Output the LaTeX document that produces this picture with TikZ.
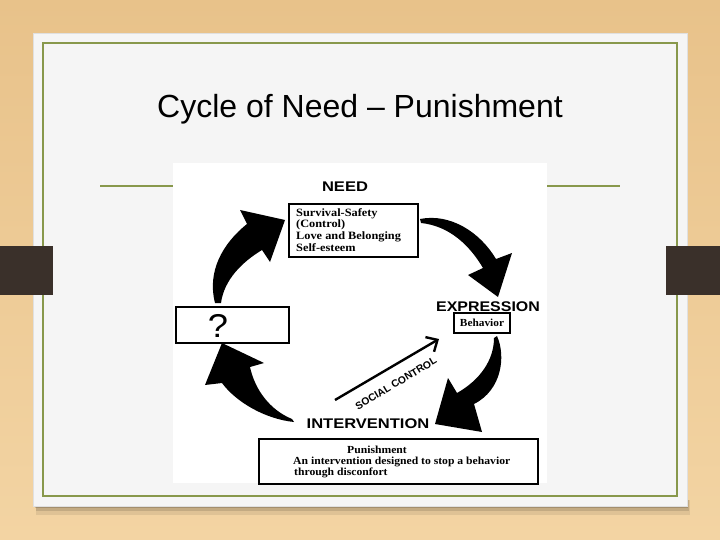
\documentclass[tikz,border=0pt]{standalone}
\usepackage{fontspec}
\usepackage{graphicx}
\setmainfont{Liberation Serif}
\setsansfont{Liberation Sans}
\usetikzlibrary{arrows.meta}
\definecolor{woodtop}{RGB}{232,194,138}
\definecolor{woodbot}{RGB}{243,212,163}
\definecolor{cardc}{RGB}{245,245,245}
\definecolor{olivec}{RGB}{136,152,76}
\definecolor{tabc}{RGB}{58,48,42}
\newcommand\hsx[2]{\scalebox{#1}[1]{#2}}
\begin{document}
\begin{tikzpicture}[x=1pt,y=-1pt,
  lbl/.style={font=\sffamily\bfseries\fontsize{14}{14}\selectfont, inner sep=0pt, anchor=base},
  box/.style={draw=black, line width=2pt, inner sep=0pt, fill=white},
  btxt/.style={font=\rmfamily\bfseries\fontsize{11.2}{11.2}\selectfont, inner sep=0pt, anchor=base west},
  ptxt/.style={font=\rmfamily\bfseries\fontsize{10.8}{10.8}\selectfont, inner sep=0pt, anchor=base west},
  blk/.style={fill=black, draw=none}]
\useasboundingbox (0,0) rectangle (720,540);
\shade[top color=woodtop, bottom color=woodbot] (0,0) rectangle (720,540);
% card shadow
\fill[black, opacity=0.08] (36,500) rectangle (690,515);
\fill[black, opacity=0.12] (36,500) rectangle (689,511);
\fill[black, opacity=0.16] (35,500) rectangle (688,508);
% card
\fill[cardc, draw=black!12, line width=0.6pt] (33,33) rectangle (687,506);
\draw[olivec, line width=1.6pt] (43,43) rectangle (677,496);
% tabs
\fill[tabc] (0,246) rectangle (53,295);
\fill[tabc] (666,246) rectangle (720,295);
% title
\node[font=\sffamily\fontsize{32}{32}\selectfont, anchor=base, inner sep=0pt] (title) at (360,118) {Cycle of Need – Punishment};
% rule under title
\draw[olivec, line width=1.5pt] (100,186) -- (620,186);
% diagram picture background
\fill[white] (173,163) rectangle (547,483);
% labels
\node[lbl] (need) at (345,191.7) {\hsx{1.18}{NEED}};
\node[lbl] (expr) at (488,311.7) {\hsx{1.14}{EXPRESSION}};
\node[lbl] (interv) at (368,428.3) {\hsx{1.18}{INTERVENTION}};
% need box
\node[box, anchor=north west, minimum width=129pt, minimum height=53pt] (needbox) at (288,203) {};
\node[btxt] (n1) at (296,216.3) {\hsx{1.1}{Survival-Safety}};
\node[btxt] (n2) at (296,228) {\hsx{1.1}{(Control)}};
\node[btxt] (n3) at (296,239.8) {\hsx{1.1}{Love and Belonging}};
\node[btxt] (n4) at (296,251.4) {\hsx{1.1}{Self-esteem}};
% behavior box
\node[box, minimum width=56pt, minimum height=20pt, font=\rmfamily\bfseries\fontsize{10.8}{10.8}\selectfont] (behbox) at (482,323) {\hsx{1.05}{Behavior}};
% question box
\node[box, line width=2.3pt, anchor=north west, minimum width=113pt, minimum height=36pt] (qbox) at (175,306) {};
\node[font=\sffamily\fontsize{33}{33}\selectfont, inner sep=0pt, anchor=base] (q) at (218,337) {\hsx{1.1}{?}};
% punishment box
\node[box, anchor=north west, minimum width=279pt, minimum height=45pt] (punbox) at (258,438) {};
\node[ptxt, anchor=base] (p1) at (377,453.3) {\hsx{1.08}{Punishment}};
\node[ptxt] (p2) at (293,464.5) {\hsx{1.08}{An intervention designed to stop a behavior}};
\node[ptxt] (p3) at (294,475.8) {\hsx{1.08}{through disconfort}};
% big curved arrows
\fill[blk] (215,303) .. controls (207,272) and (222,244) .. (247,224) -- (240,210) -- (285,220) -- (270,262) -- (262,250) .. controls (242,262) and (224,280) .. (221,303) -- cycle;
\fill[blk] (420,219) .. controls (450,213) and (480,232) .. (496,259) -- (512,253) -- (498,297) -- (468,275) -- (483,268) .. controls (470,246) and (450,226) .. (421,223) -- cycle;
\fill[blk] (497,336) .. controls (506,356) and (502,390) .. (474,404) -- (482,432) -- (435,424) -- (448,378) -- (457,393) .. controls (480,380) and (494,360) .. (494,338) -- cycle;
\fill[blk] (294,422) .. controls (265,419) and (236,402) .. (222,383) -- (205,385) -- (222,343) -- (264,363) -- (250,367) .. controls (255,390) and (270,410) .. (292,419) -- cycle;
% social control arrow
\coordinate (scA) at (335,400);
\coordinate (scB) at (439,339);
\draw[line width=2.4pt, -{Straight Barb[length=9pt,width=17pt]}] (scA) -- (scB);
\node[font=\sffamily\bfseries\fontsize{10.3}{10.3}\selectfont, rotate=31, inner sep=0pt] (sclbl) at (396,383.5) {SOCIAL CONTROL};
\end{tikzpicture}
\end{document}
